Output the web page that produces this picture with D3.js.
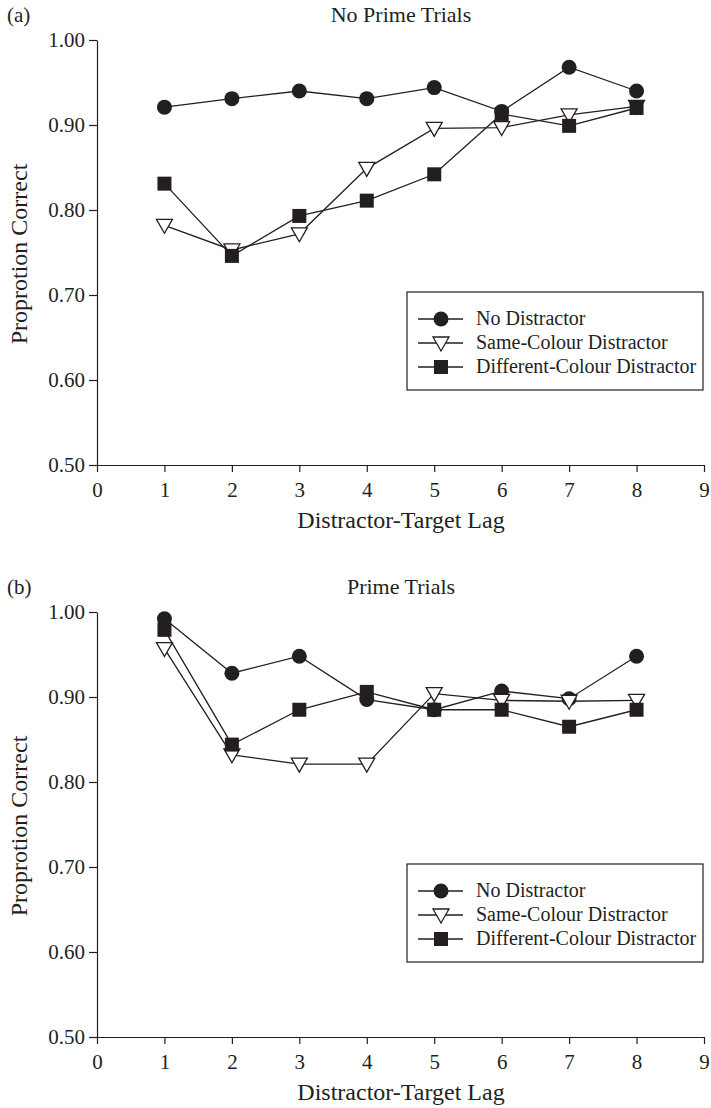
<!DOCTYPE html>
<html><head><meta charset="utf-8">
<script src="https://cdn.jsdelivr.net/npm/d3@7"></script>
<style>
body{margin:0;background:#fff;}
text{font-family:"Liberation Serif","Times New Roman",serif;fill:#231f20;}
</style></head>
<body><svg id="c" width="711" height="1108"></svg>
<script>
const lags = [1,2,3,4,5,6,7,8];
const xTicks = [0,1,2,3,4,5,6,7,8,9];
const yTicks = [0.50,0.60,0.70,0.80,0.90,1.00];
const seriesNames = ["No Distractor","Same-Colour Distractor","Different-Colour Distractor"];
const noPrimeNone = [0.921,0.931,0.940,0.931,0.944,0.916,0.968,0.940];
const noPrimeSame = [0.782,0.753,0.772,0.849,0.896,0.897,0.912,0.922];
const noPrimeDiff = [0.831,0.746,0.793,0.811,0.842,0.913,0.899,0.920];
const primeNone = [0.992,0.928,0.948,0.897,0.885,0.907,0.898,0.948];
const primeSame = [0.957,0.832,0.821,0.821,0.904,0.896,0.895,0.896];
const primeDiff = [0.979,0.844,0.885,0.906,0.885,0.885,0.865,0.885];

const ink = "#231f20";
const svg = d3.select("#c");

function marker(g, kind){
  if(kind===0){ g.append("circle").attr("r",7.5).attr("fill",ink); }
  else if(kind===1){ g.append("path").attr("d","M-8,-6L8,-6L0,8Z").attr("fill","#fff").attr("stroke",ink).attr("stroke-width",1.3); }
  else { g.append("rect").attr("x",-7).attr("y",-7).attr("width",14).attr("height",14).attr("fill",ink); }
}

function panel(top, tag, title, data){
  const g = svg.append("g").attr("transform",`translate(0,${top})`);
  const x = d3.scaleLinear().domain([0,9]).range([97,704]);
  const y = d3.scaleLinear().domain([0.5,1.0]).range([425,0]);
  g.append("text").attr("x",7).attr("y",-18).attr("font-size",21).text(tag);
  g.append("text").attr("x",401).attr("y",-18).attr("text-anchor","middle").attr("font-size",22).text(title);

  const ya = g.append("g").attr("transform","translate(97,0)")
    .call(d3.axisLeft(y).tickValues(yTicks).tickFormat(d3.format(".2f")).tickSize(8).tickSizeOuter(0).tickPadding(4));
  const xa = g.append("g").attr("transform","translate(0,425)")
    .call(d3.axisBottom(x).tickValues(xTicks).tickFormat(d3.format("d")).tickSize(7).tickSizeOuter(0).tickPadding(10));
  [ya,xa].forEach(a=>{
    a.selectAll("path,line").attr("stroke",ink).attr("stroke-width",1.2);
    a.selectAll("text").attr("font-size",21).attr("font-family","Liberation Serif, Times New Roman, serif").attr("fill",ink);
  });
  g.append("text").attr("transform",`translate(27,214) rotate(-90)`).attr("text-anchor","middle").attr("font-size",24).text("Proprotion Correct");
  g.append("text").attr("x",401).attr("y",488).attr("text-anchor","middle").attr("font-size",24).text("Distractor-Target Lag");

  const line = d3.line().x((d,i)=>x(lags[i])).y(d=>y(d));
  data.forEach((vals,k)=>{
    g.append("path").datum(vals).attr("d",line).attr("fill","none").attr("stroke",ink).attr("stroke-width",1.3);
    vals.forEach((v,i)=>{
      const m = g.append("g").attr("transform",`translate(${x(lags[i])},${y(v)})`);
      marker(m,k);
    });
  });

  // legend
  const lg = g.append("g").attr("transform","translate(407,252)");
  lg.append("rect").attr("width",296).attr("height",98).attr("fill","#fff").attr("stroke",ink).attr("stroke-width",1.2);
  seriesNames.forEach((n,k)=>{
    const ry = 27 + k*24;
    lg.append("line").attr("x1",11).attr("x2",56).attr("y1",ry).attr("y2",ry).attr("stroke",ink).attr("stroke-width",1.3);
    const m = lg.append("g").attr("transform",`translate(34,${ry})`);
    marker(m,k);
    lg.append("text").attr("x",69).attr("y",ry+6).attr("font-size",20).text(n);
  });
}

panel(40, "(a)", "No Prime Trials", [noPrimeNone,noPrimeSame,noPrimeDiff]);
panel(612, "(b)", "Prime Trials", [primeNone,primeSame,primeDiff]);
</script></body></html>
